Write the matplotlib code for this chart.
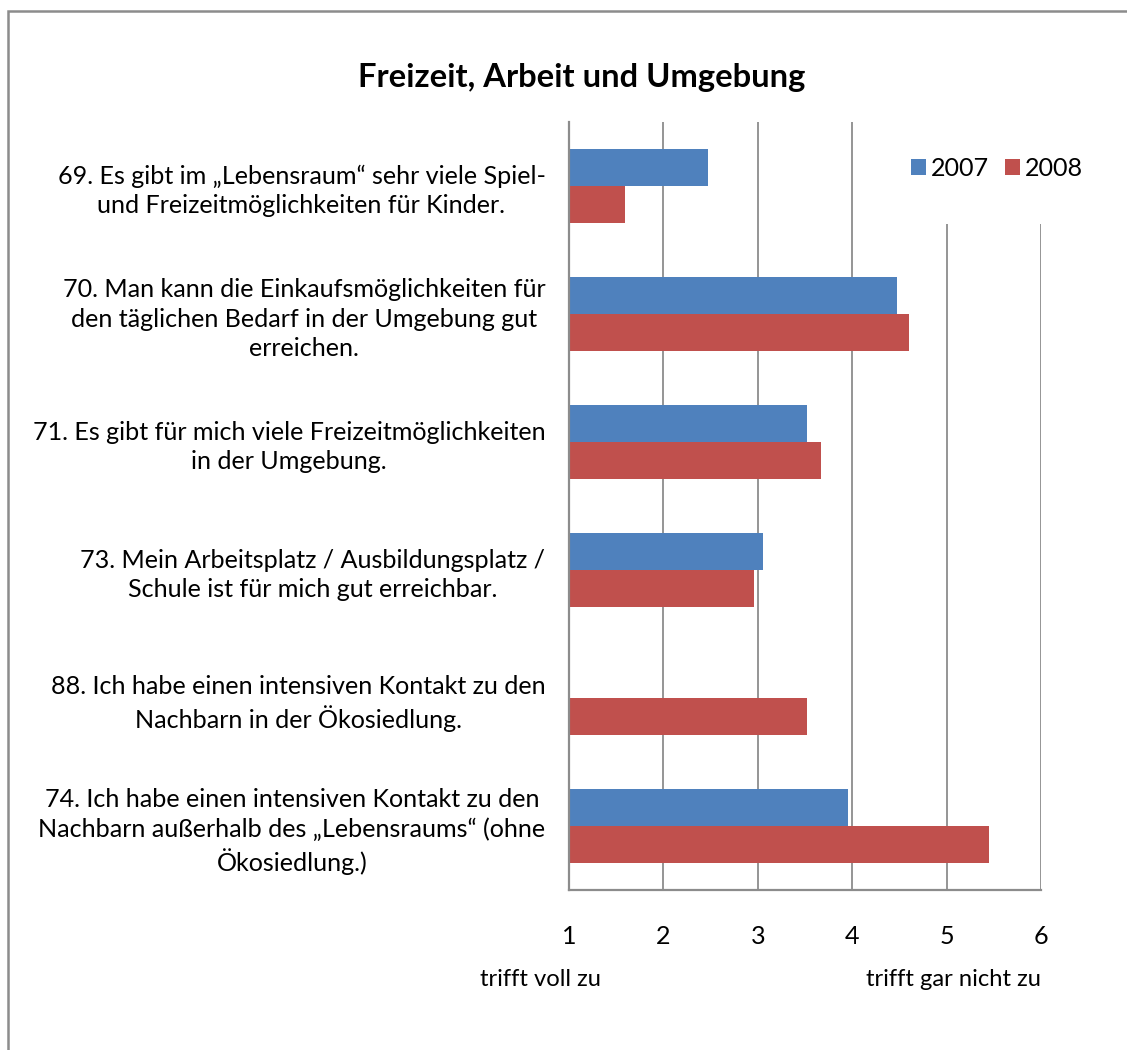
import numpy as np
import matplotlib
matplotlib.use("Agg")
import matplotlib.pyplot as plt
import matplotlib.transforms as mtransforms
from matplotlib.patches import Rectangle

# ---- data ----
categories = [
    "69. Es gibt im „Lebensraum“ sehr viele Spiel-\nund Freizeitmöglichkeiten für Kinder.",
    "70. Man kann die Einkaufsmöglichkeiten für\nden täglichen Bedarf in der Umgebung gut\nerreichen.",
    "71. Es gibt für mich viele Freizeitmöglichkeiten\nin der Umgebung.",
    "73. Mein Arbeitsplatz / Ausbildungsplatz /\nSchule ist für mich gut erreichbar.",
    "88. Ich habe einen intensiven Kontakt zu den\nNachbarn in der Ökosiedlung.",
    "74. Ich habe einen intensiven Kontakt zu den\nNachbarn außerhalb des „Lebensraums“ (ohne\nÖkosiedlung.)",
]
series_names = ["2007", "2008"]
values_2007 = [2.47, 4.47, 3.52, 3.06, np.nan, 3.96]
values_2008 = [1.59, 4.60, 3.67, 2.96, 3.52, 5.45]
x_ticks = [1, 2, 3, 4, 5, 6]
title = "Freizeit, Arbeit und Umgebung"
left_note = "trifft voll zu"
right_note = "trifft gar nicht zu"

# ---- style ----
FONT = "Lato"
plt.rcParams["font.family"] = [FONT, "DejaVu Sans"]
BLUE = "#4F81BD"
RED = "#C0504D"
GRID = "#8C8C8C"

W, H, DPI = 1127, 1050, 100
fig = plt.figure(figsize=(W / DPI, H / DPI), dpi=DPI)
renderer = fig.canvas.get_renderer()


def fit_size(text, target_px, weight="normal", base=20):
    t = fig.text(0, 0, text, fontsize=base, weight=weight)
    w = t.get_window_extent(renderer).width
    t.remove()
    return base * target_px / w


label_fs = fit_size("69. Es gibt im „Lebensraum“ sehr viele Spiel-", 489)
title_fs = fit_size(title, 448, weight="bold")

ax_left, ax_right = 569 / W, 1041 / W
ax_top, ax_bottom = 1 - 122 / H, 1 - 890 / H
ax = fig.add_axes([ax_left, ax_bottom, ax_right - ax_left, ax_top - ax_bottom])

pos = np.arange(len(categories))
h = 1 / 3.5
ax.barh(pos - h / 2, values_2007, height=h, color=BLUE, label=series_names[0], zorder=3)
ax.barh(pos + h / 2, values_2008, height=h, color=RED, label=series_names[1], zorder=3)

ax.set_xlim(x_ticks[0], x_ticks[-1])
ax.set_ylim(len(categories) - 0.5, -0.5)
ax.set_xticks(x_ticks)
ax.set_xticklabels([str(v) for v in x_ticks], fontsize=label_fs)
ax.set_yticks(pos)
ax.set_yticklabels(categories, fontsize=label_fs)
for t in ax.get_yticklabels():
    t.set_multialignment("center")
    t.set_linespacing(1.32)
ax.tick_params(axis="y", length=0, pad=17)
ax.tick_params(axis="x", length=0, pad=25)
ax.grid(axis="x", color=GRID, linewidth=1.3, zorder=1)
ax.set_axisbelow(True)
for s in ["top", "right"]:
    ax.spines[s].set_visible(False)
for s in ["left", "bottom"]:
    ax.spines[s].set_color(GRID)
    ax.spines[s].set_linewidth(1.6)
    ax.spines[s].set_zorder(4)

# white legend area covering the top of the gridlines 5 and 6
blend = mtransforms.blended_transform_factory(ax.transData, ax.transAxes)
cover_h = (224 - 122) / (890 - 122)
ax.add_patch(Rectangle((4.5, 1 - cover_h), 1.7, cover_h + 0.02, transform=blend,
                       facecolor="white", edgecolor="none", zorder=2, clip_on=False))

leg = ax.legend(loc="center", bbox_to_anchor=(997 / W, 1 - 168 / H), bbox_transform=fig.transFigure,
                ncol=2, frameon=False, fontsize=label_fs, handlelength=0.6, handleheight=0.6,
                handletextpad=0.2, columnspacing=0.6, borderaxespad=0)

fig.text(582 / W, 1 - 78 / H, title, fontsize=title_fs, weight="bold", ha="center", va="center")
fig.text(541 / W, 1 - 980 / H, left_note, fontsize=label_fs * 0.95, ha="center", va="center")
fig.text(953 / W, 1 - 980 / H, right_note, fontsize=label_fs * 0.95, ha="center", va="center")

# outer chart border
fig.patches.append(Rectangle((8 / W, -0.05), 1.2, 1 - 10.5 / H + 0.05, transform=fig.transFigure,
                             facecolor="none", edgecolor=GRID, linewidth=1.8, figure=fig))

fig.savefig("out.png", dpi=DPI)
